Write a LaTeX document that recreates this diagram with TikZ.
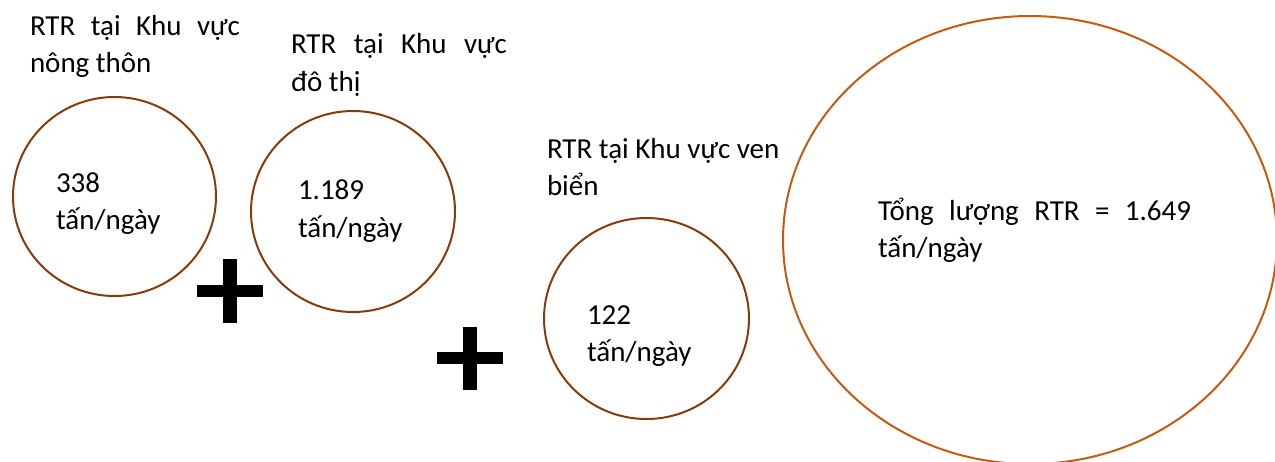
\documentclass[tikz,border=0pt]{standalone}
\usepackage{fontspec}
\setmainfont{Carlito}
\usetikzlibrary{shapes.geometric}
\definecolor{brownline}{HTML}{843C0C}
\definecolor{orangeline}{HTML}{C55A11}
\tikzset{
  ring/.style={draw=brownline, line width=2pt, ellipse, inner sep=0pt},
  bigring/.style={draw=orangeline, line width=2pt, ellipse, inner sep=0pt},
  lbl/.style={anchor=base west, inner sep=0pt, outer sep=0pt, font=\fontsize{29}{37}\selectfont},
  plusbar/.style={fill=black, draw=none}
}
\begin{document}
\begin{tikzpicture}[x=1pt, y=-1pt]
\useasboundingbox (0,0) rectangle (1275,461);
% circles
\node[ring, minimum width=203pt, minimum height=199pt] (c1) at (114.5,196.5) {};
\node[ring, minimum width=204pt, minimum height=201pt] (c2) at (353,211.5) {};
\node[ring, minimum width=205pt, minimum height=201pt] (c3) at (646.5,318.5) {};
\node[bigring, minimum width=494pt, minimum height=448pt] (ct) at (1030,240) {};
% titles
\node[lbl] (t1a) at (30,35) {\makebox[210pt][l]{RTR\hfill tại\hfill Khu\hfill vực}};
\begin{scope}
\clip (0,0) rectangle (300,76);
\node[lbl] (t1b) at (30,72) {nông thôn};
\end{scope}
\node[lbl] (t2a) at (291,53) {\makebox[216pt][l]{RTR\hfill tại\hfill Khu\hfill vực}};
\node[lbl] (t2b) at (291,91) {đô thị};
\node[lbl] (t3a) at (547,158) {RTR tại Khu vực ven};
\node[lbl] (t3b) at (547,195) {biển};
% values
\node[lbl] (v1a) at (56,192) {338};
\node[lbl] (v1b) at (56,229) {tấn/ngày};
\node[lbl] (v2a) at (298,199) {1.189};
\node[lbl] (v2b) at (298,237) {tấn/ngày};
\node[lbl] (v3a) at (587,324) {122};
\node[lbl] (v3b) at (587,361) {tấn/ngày};
\node[lbl] (vta) at (878,220) {\makebox[313pt][l]{Tổng\hfill lượng\hfill RTR\hfill =\hfill 1.649}};
\node[lbl] (vtb) at (878,257) {tấn/ngày};
% plus signs
\fill[plusbar] (197,285) rectangle (263,297);
\fill[plusbar] (223,259) rectangle (237,323);
\fill[plusbar] (437,352) rectangle (503,364);
\fill[plusbar] (463,327) rectangle (477,390);
\end{tikzpicture}
\end{document}
